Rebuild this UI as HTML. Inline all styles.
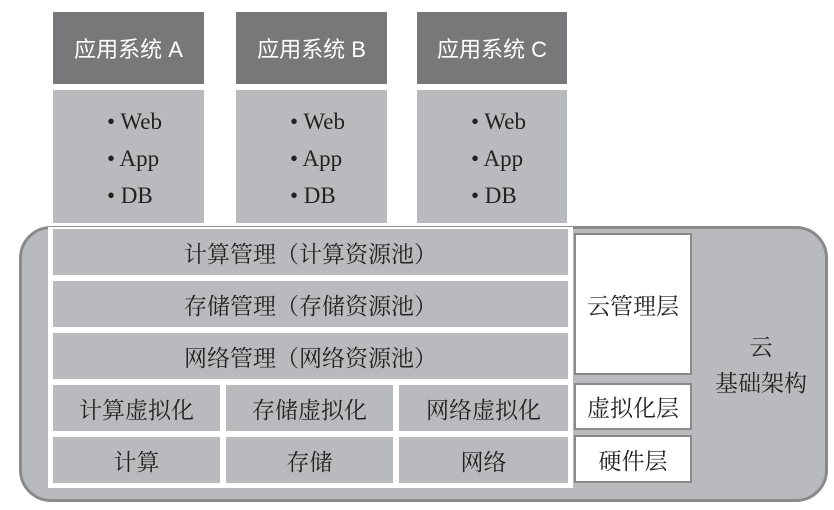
<!DOCTYPE html>
<html><head><meta charset="utf-8"><style>
body{margin:0;width:834px;height:510px;background:#fff;position:relative;overflow:hidden;font-family:"Liberation Serif","Noto Serif CJK SC",serif;color:#222}
div{position:absolute;box-sizing:border-box}
.g{background:#b9babd;display:flex;align-items:center;justify-content:center;font-size:23px}
.h{background:#78787b;color:#fff;font-family:"Liberation Sans","Noto Sans CJK SC",sans-serif;font-size:22px;display:flex;align-items:center;justify-content:center}
.b{line-height:37px;font-size:23px;padding-top:13px}
.w{background:#fff;border:2px solid #8a8a8c;display:flex;align-items:center;justify-content:center;font-size:23px}
</style></head><body>
<div style="left:19px;top:226px;width:809px;height:276px;border:3px solid #8a8a8c;border-radius:32px;background:#b9babd"></div>
<div style="left:48px;top:227px;width:525px;height:261px;background:#fff"></div>
<div class="h" style="left:53px;top:12px;width:151px;height:72px">应用系统 A</div>
<div class="h" style="left:236px;top:12px;width:151px;height:72px">应用系统 B</div>
<div class="h" style="left:417px;top:12px;width:150px;height:72px">应用系统 C</div>
<div class="g b" style="left:53px;top:90px;width:151px;height:133px;display:block;padding-left:54px">• Web<br>• App<br>• DB</div>
<div class="g b" style="left:236px;top:90px;width:151px;height:133px;display:block;padding-left:54px">• Web<br>• App<br>• DB</div>
<div class="g b" style="left:417px;top:90px;width:150px;height:133px;display:block;padding-left:54px">• Web<br>• App<br>• DB</div>
<div class="g" style="left:53px;top:229px;width:515px;height:46px">计算管理（计算资源池）</div>
<div class="g" style="left:53px;top:281px;width:515px;height:46px">存储管理（存储资源池）</div>
<div class="g" style="left:53px;top:333px;width:515px;height:46px">网络管理（网络资源池）</div>
<div class="g" style="left:53px;top:385px;width:167px;height:46px">计算虚拟化</div>
<div class="g" style="left:226px;top:385px;width:167px;height:46px">存储虚拟化</div>
<div class="g" style="left:399px;top:385px;width:169px;height:46px">网络虚拟化</div>
<div class="g" style="left:53px;top:437px;width:167px;height:46px">计算</div>
<div class="g" style="left:226px;top:437px;width:167px;height:46px">存储</div>
<div class="g" style="left:399px;top:437px;width:169px;height:46px">网络</div>
<div class="w" style="left:574px;top:233px;width:118px;height:142px">云管理层</div>
<div class="w" style="left:574px;top:383px;width:118px;height:47px">虚拟化层</div>
<div class="w" style="left:574px;top:435px;width:118px;height:48px">硬件层</div>
<div style="left:700px;top:330px;width:122px;text-align:center;font-size:23px;line-height:36px">云<br>基础架构</div>
</body></html>
